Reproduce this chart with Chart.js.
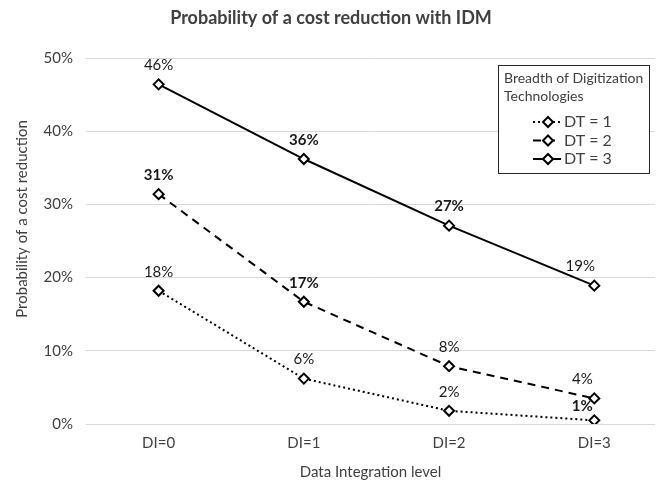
<!DOCTYPE html>
<html>
<head>
<meta charset="utf-8">
<script src="https://cdn.jsdelivr.net/npm/chart.js@4.4.1/dist/chart.umd.min.js"></script>
<style>
html,body{margin:0;padding:0;background:#fff;overflow:hidden;}
#wrap{width:662px;height:481px;position:relative;}
</style>
</head>
<body>
<div id="wrap"><canvas id="c" width="662" height="481"></canvas></div>
<script>
// ---- data ----
const categories = ['DI=0', 'DI=1', 'DI=2', 'DI=3'];
const seriesNames = ['DT = 1', 'DT = 2', 'DT = 3'];
const dt1 = [0.182, 0.062, 0.018, 0.005];
const dt2 = [0.314, 0.167, 0.079, 0.035];
const dt3 = [0.464, 0.362, 0.271, 0.189];
const dt1Labels = ['18%', '6%', '2%', '1%'];
const dt2Labels = ['31%', '17%', '8%', '4%'];
const dt3Labels = ['46%', '36%', '27%', '19%'];
const yTicks = [0, 0.1, 0.2, 0.3, 0.4, 0.5];
const yTitle = 'Probability of a cost reduction';
const legendTitle = ['Breadth of Digitization', 'Technologies'];

// ---- styling ----
const FONT = 'Lato, "Open Sans", sans-serif';
const labelBold = [[false,false,false,true],[true,true,false,false],[false,true,true,false]];
const labelDx = [[0,0,0,-12],[0,0,0,-12],[0,0,0,-14]];
const labelDy = [[-19,-19,-19,-14],[-19,-19,-19,-19],[-19,-19,-19,-19]];

function mk(vals){ return vals.map((v,i)=>({x:i,y:v})); }

const pointCommon = {
  pointStyle:'rectRot', pointRadius:5, pointHoverRadius:5,
  pointBackgroundColor:'#ffffff', pointBorderColor:'#000000', pointBorderWidth:2,
  borderColor:'#000000', borderWidth:2, fill:false, tension:0
};

const datasets = [
  Object.assign({label:seriesNames[0], data:mk(dt1), labels:dt1Labels, borderDash:[2,3]}, pointCommon),
  Object.assign({label:seriesNames[1], data:mk(dt2), labels:dt2Labels, borderDash:[8,6]}, pointCommon),
  Object.assign({label:seriesNames[2], data:mk(dt3), labels:dt3Labels, borderDash:[]}, pointCommon)
];

const dataLabelPlugin = {
  id:'dataLabels',
  afterDatasetsDraw(chart){
    const ctx = chart.ctx;
    ctx.save();
    ctx.textAlign='center'; ctx.textBaseline='middle';
    ctx.fillStyle='#1a1a1a';
    chart.data.datasets.forEach((ds,di)=>{
      const meta = chart.getDatasetMeta(di);
      meta.data.forEach((pt,i)=>{
        ctx.font = (labelBold[di][i]?'bold ':'') + '15px ' + FONT;
        ctx.fillText(ds.labels[i], pt.x + labelDx[di][i], pt.y + labelDy[di][i]);
      });
    });
    ctx.restore();
  }
};

const yTitlePlugin = {
  id:'yTitle',
  afterDraw(chart){
    const ctx = chart.ctx;
    ctx.save();
    ctx.translate(22, 219);
    ctx.rotate(-Math.PI/2);
    ctx.fillStyle='#404040';
    ctx.font='15px '+FONT;
    ctx.textAlign='center'; ctx.textBaseline='middle';
    ctx.fillText(yTitle, 0, 0);
    ctx.restore();
  }
};

const legendPlugin = {
  id:'boxLegend',
  afterDraw(chart){
    const ctx = chart.ctx;
    const x0=498, y0=65, w=151, h=108;
    ctx.save();
    ctx.fillStyle='#ffffff';
    ctx.fillRect(x0,y0,w,h);
    ctx.strokeStyle='#262626'; ctx.lineWidth=1;
    ctx.strokeRect(x0+0.5,y0+0.5,w,h);
    ctx.fillStyle='#404040';
    ctx.font='14px '+FONT;
    ctx.textAlign='left'; ctx.textBaseline='middle';
    ctx.fillText(legendTitle[0], x0+6, y0+13);
    ctx.fillText(legendTitle[1], x0+6, y0+31);
    chart.data.datasets.forEach((ds,di)=>{
      const y = y0+57+di*18.5;
      ctx.strokeStyle='#000'; ctx.lineWidth=2;
      ctx.setLineDash(ds.borderDash);
      ctx.beginPath(); ctx.moveTo(x0+35,y); ctx.lineTo(x0+63,y); ctx.stroke();
      ctx.setLineDash([]);
      const cx=x0+50, r=5;
      ctx.beginPath();
      ctx.moveTo(cx,y-r); ctx.lineTo(cx+r,y); ctx.lineTo(cx,y+r); ctx.lineTo(cx-r,y); ctx.closePath();
      ctx.fillStyle='#fff'; ctx.fill(); ctx.stroke();
      ctx.fillStyle='#404040';
      ctx.font='16px '+FONT;
      ctx.fillText(ds.label, x0+66, y);
    });
    ctx.restore();
  }
};

new Chart(document.getElementById('c'), {
  type:'line',
  data:{datasets},
  options:{
    responsive:false, animation:false,
    layout:{padding:{left:0,right:0,top:0,bottom:0}},
    plugins:{
      legend:{display:false},
      tooltip:{enabled:false},
      title:{display:true, text:'Probability of a cost reduction with IDM',
        color:'#404040', font:{family:FONT, size:18, weight:'bold'},
        padding:{top:7,bottom:29.4}}
    },
    scales:{
      x:{
        type:'linear', min:-0.5, max:3.418,
        afterBuildTicks(s){ s.ticks = categories.map((_,i)=>({value:i})); },
        afterFit(s){ s.height = 57; },
        grid:{display:false}, border:{display:false},
        ticks:{callback:(v)=>categories[v], color:'#404040', font:{family:FONT,size:15}, padding:2, maxRotation:0, autoSkip:false},
        title:{display:true, text:'Data Integration level', color:'#404040', font:{family:FONT,size:15}, padding:{top:8,bottom:0}}
      },
      y:{
        min:0, max:0.5,
        afterBuildTicks(s){ s.ticks = yTicks.map(v=>({value:v})); },
        afterFit(s){ s.width = 86; },
        grid:{color:'#d9d9d9', lineWidth:1, drawTicks:false},
        border:{display:false},
        ticks:{callback:(v)=>Math.round(v*100)+'%', color:'#404040', font:{family:FONT,size:15}, padding:13},
        title:{display:false}
      }
    }
  },
  plugins:[dataLabelPlugin, legendPlugin, yTitlePlugin]
});
</script>
</body>
</html>
